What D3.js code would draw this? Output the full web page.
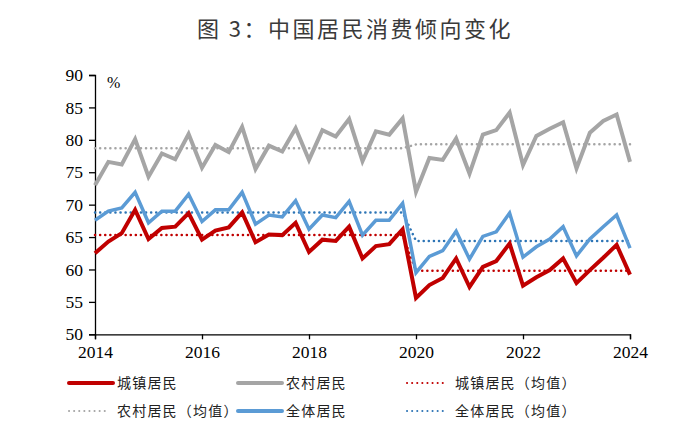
<!DOCTYPE html>
<html>
<head>
<meta charset="utf-8">
<script src="https://cdn.jsdelivr.net/npm/d3@7"></script>
<style>
  body { margin: 0; background: #fff; }
</style>
</head>
<body>
<div id="chart"></div>
<script>
// quarterly points, 2014Q1 .. 2024Q1
var quarters = d3.range(41).map(function (i) { return 2014 + i * 0.25; });

var urban = [62.5, 64.3, 65.6, 69.2, 64.7, 66.4, 66.6, 68.7, 64.6, 66.0, 66.5, 68.8, 64.2,
  65.4, 65.3, 67.2, 62.7, 64.6, 64.4, 66.6, 61.7, 63.6, 63.9, 66.2,
  55.6, 57.6, 58.7, 61.7, 57.3, 60.4, 61.3, 64.0, 57.5, 58.8, 59.9, 61.7, 57.9, 59.9, 61.8, 63.8, 59.2];

var rural = [73.0, 76.6, 76.2, 80.1, 74.3, 77.9, 77.0, 80.9, 75.7, 79.2, 78.1, 82.0, 75.5,
  79.1, 78.2, 81.8, 76.9, 81.5, 80.5, 83.2, 76.7, 81.3, 80.8, 83.3,
  72.0, 77.2, 76.9, 80.2, 74.8, 80.8, 81.5, 84.2, 76.1, 80.6, 81.7, 82.7, 75.6, 81.1, 82.9, 83.9, 76.6];

var total = [67.6, 69.0, 69.5, 71.9, 67.2, 69.0, 69.0, 71.6, 67.4, 69.2, 69.2, 71.9, 67.0,
  68.4, 68.1, 70.6, 66.2, 68.4, 68.0, 70.5, 65.3, 67.6, 67.6, 70.2,
  59.5, 62.0, 62.9, 65.9, 61.6, 65.1, 65.8, 68.7, 61.9, 63.5, 64.7, 66.6, 62.1, 64.7, 66.6, 68.4, 63.3];

// averages before / after 2020Q1 (index 24)
var urbanAvg = [65.3, 59.8];
var ruralAvg = [78.7, 79.3];
var totalAvg = [68.8, 64.4];

var yTicks = [50, 55, 60, 65, 70, 75, 80, 85, 90];
var xTicks = [2014, 2016, 2018, 2020, 2022, 2024];

function avgSeries(a) {
  return quarters.map(function (q, i) { return i < 24 ? a[0] : a[1]; });
}

var series = [
  { name: "城镇居民", values: urban, color: "#C00000", width: 4, dotted: false },
  { name: "农村居民", values: rural, color: "#A5A5A5", width: 4, dotted: false },
  { name: "城镇居民（均值）", values: avgSeries(urbanAvg), color: "#C00000", width: 2.5, dotted: true },
  { name: "农村居民（均值）", values: avgSeries(ruralAvg), color: "#A5A5A5", width: 2.5, dotted: true },
  { name: "全体居民", values: total, color: "#5B9BD5", width: 3.5, dotted: false },
  { name: "全体居民（均值）", values: avgSeries(totalAvg), color: "#2E75B6", width: 2.5, dotted: true }
];

var W = 700, H = 435;
var svg = d3.select("#chart").append("svg")
  .attr("width", W)
  .attr("height", H);

var x = d3.scaleLinear().domain([2014, 2024]).range([95, 630]);
var y = d3.scaleLinear().domain([50, 90]).range([334.3, 75]);

// title
svg.append("text")
  .attr("x", 355)
  .attr("y", 37)
  .attr("text-anchor", "middle")
  .style("font-family", "'Noto Sans CJK SC', sans-serif")
  .style("font-size", "22px")
  .style("letter-spacing", "2.5px")
  .style("fill", "#3a3a3a")
  .text("图 3：中国居民消费倾向变化");

// y axis
var yAxis = svg.append("g")
  .attr("transform", "translate(95,0)")
  .call(d3.axisLeft(y).tickValues(yTicks).tickSize(6).tickPadding(6).tickFormat(d3.format("d")));

// x axis
var xAxis = svg.append("g")
  .attr("transform", "translate(0,334.3)")
  .call(d3.axisBottom(x).tickValues(xTicks).tickSize(5).tickPadding(6).tickFormat(d3.format("d")));

[yAxis, xAxis].forEach(function (g) {
  g.select(".domain").attr("stroke", "#000").attr("stroke-width", 1.3);
  g.selectAll(".tick line").attr("stroke", "#000").attr("stroke-width", 1.3);
  g.selectAll(".tick text")
    .style("font-family", "'Liberation Serif', 'Times New Roman', serif")
    .style("font-size", "17.5px")
    .attr("fill", "#000");
});

svg.append("text")
  .attr("x", 107)
  .attr("y", 88)
  .style("font-family", "'Liberation Serif', serif")
  .style("font-size", "16px")
  .text("%");

var line = d3.line()
  .x(function (d, i) { return x(quarters[i]); })
  .y(function (d) { return y(d); });

// draw order: averages under the solid lines
var drawOrder = [3, 2, 5, 1, 4, 0];
drawOrder.forEach(function (k) {
  var s = series[k];
  svg.append("path")
    .datum(s.values)
    .attr("fill", "none")
    .attr("stroke", s.color)
    .attr("stroke-width", s.width)
    .attr("stroke-dasharray", s.dotted ? "0.1,5" : null)
    .attr("stroke-linecap", s.dotted ? "round" : "butt")
    .attr("d", line);
});

// legend
var legendPos = [
  [69, 383], [238, 383], [407, 383],
  [69, 411], [238, 411], [407, 411]
];
series.forEach(function (s, i) {
  var p = legendPos[i];
  var g = svg.append("g").attr("transform", "translate(" + p[0] + "," + p[1] + ")");
  g.append("line")
    .attr("x1", 0).attr("x2", s.dotted ? 40 : 44)
    .attr("y1", 0).attr("y2", 0)
    .attr("stroke", s.color)
    .attr("stroke-width", s.dotted ? 2 : 4)
    .attr("stroke-dasharray", s.dotted ? "0.1,5" : null)
    .attr("stroke-linecap", s.dotted ? "round" : "round");
  g.append("text")
    .attr("x", 48)
    .attr("y", 5)
    .style("font-family", "'Noto Sans CJK SC', sans-serif")
    .style("font-size", "14px")
    .style("letter-spacing", "1.2px")
    .style("fill", "#222")
    .text(s.name);
});
</script>
</body>
</html>
